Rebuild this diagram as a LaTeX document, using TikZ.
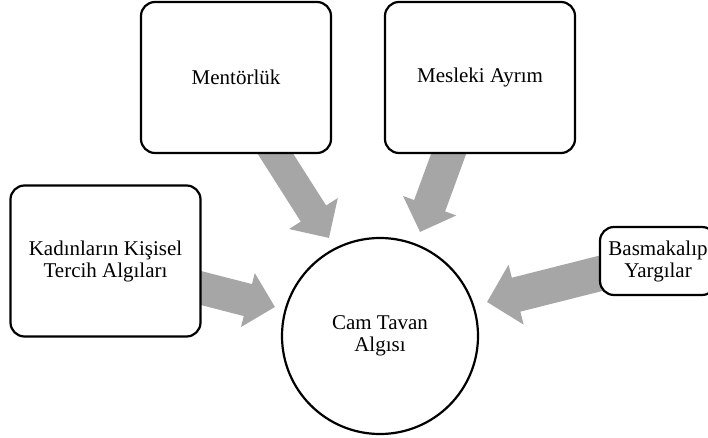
\documentclass[tikz,border=0pt]{standalone}
\usepackage{fontspec}
\setmainfont{Liberation Serif}
\usetikzlibrary{arrows.meta}
\definecolor{arrowgray}{RGB}{166,166,166}
\tikzset{
  boxnode/.style={draw=black, line width=2.2pt, rounded corners=14pt, fill=white,
    align=center, inner sep=0pt, font=\fontsize{21}{22}\selectfont},
  bigbox/.style={boxnode, minimum width=190pt, minimum height=151pt},
  circnode/.style={draw=black, line width=2.2pt, circle, fill=white, minimum size=196pt,
    align=center, inner sep=0pt, font=\fontsize{21}{22}\selectfont},
  blockarrow/.style={draw=arrowgray, line cap=butt}
}
\begin{document}
\begin{tikzpicture}[x=1pt,y=-1pt]
\clip (0,0) rectangle (708,438);
\fill[white] (0,0) rectangle (708,438);
% arrow end points
\coordinate (m0) at (270.5,146);
\coordinate (m1) at (329,238);
\coordinate (s0) at (451.5,146);
\coordinate (s1) at (420,232);
\coordinate (k0) at (195,286.5);
\coordinate (k1) at (275,307);
\coordinate (b0) at (606,272);
\coordinate (b1) at (487,302);
% arrows
\draw[blockarrow, line width=30pt, -{Triangle[length=29pt,width=56pt]}] (m0) -- (m1);
\draw[blockarrow, line width=33pt, -{Triangle[length=28pt,width=55pt]}] (s0) -- (s1);
\draw[blockarrow, line width=33pt, -{Triangle[length=28pt,width=54pt]}] (k0) -- (k1);
\draw[blockarrow, line width=35pt, -{Triangle[length=30pt,width=60pt]}] (b0) -- (b1);
% boxes
\node[bigbox] (ment) at (236,77.5) {Mentörlük};
\node[bigbox] (mesl) at (480,77.5) {Mesleki Ayrım};
\node[bigbox] (kad) at (105.5,261) {Kadınların Kişisel\\Tercih Algıları};
\node[boxnode, minimum width=116pt, minimum height=68pt] (bas) at (658,261) {Basmakalıp\\Yargılar};
\node[circnode] (cam) at (380,336) {Cam Tavan\\Algısı};
\end{tikzpicture}
\end{document}
